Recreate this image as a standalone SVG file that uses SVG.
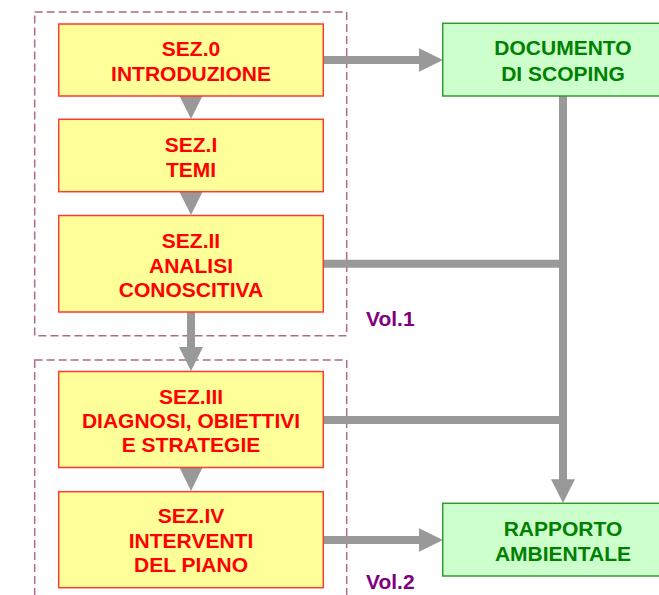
<svg xmlns="http://www.w3.org/2000/svg" width="659" height="595" viewBox="0 0 659 595">
<style>
.vol{fill:none;stroke:#B0688F;stroke-width:1.5;stroke-dasharray:8 4}
.sez{fill:#FFFF99;stroke:#FF3B2F;stroke-width:1.5}
.doc{fill:#CCFFCC;stroke:#339933;stroke-width:1.5}
.t{font-family:"Liberation Sans",Arial,sans-serif;font-weight:bold;font-size:21px;text-anchor:middle}
.r{fill:#FF0000}
.g{fill:#008000}
.p{fill:#800080;text-anchor:start}
.ln{stroke:#999999;stroke-width:8;fill:none}
.hd{fill:#999999}
</style>
<g id="vol1"><rect class="vol" x="34.7" y="12" width="312" height="323.7"/><text class="t p" x="366" y="326">Vol.1</text></g>
<g id="vol2"><rect class="vol" x="34.7" y="360" width="312" height="250"/><text class="t p" x="366" y="589">Vol.2</text></g>
<g id="connectors">
<polygon class="hd" points="179.5,96 202.5,96 191,119"/>
<polygon class="hd" points="179.5,192 202.5,192 191,215"/>
<line class="ln" x1="191" y1="312" x2="191" y2="348"/>
<polygon class="hd" points="179,347 203,347 191,371"/>
<polygon class="hd" points="179.5,467.5 202.5,467.5 191,491"/>
<line class="ln" x1="323" y1="60" x2="421" y2="60"/>
<polygon class="hd" points="419,48.3 443,60 419,71.7"/>
<line class="ln" x1="563" y1="96" x2="563" y2="481"/>
<polygon class="hd" points="551,479.3 575,479.3 563,503"/>
<line class="ln" x1="323" y1="263.7" x2="567" y2="263.7"/>
<line class="ln" x1="323" y1="420" x2="567" y2="420"/>
<line class="ln" x1="323" y1="540" x2="421" y2="540"/>
<polygon class="hd" points="419,528.3 443,540 419,551.7"/>
</g>
<g id="sez0"><rect class="sez" x="58.7" y="24" width="264.6" height="72"/><text class="t r" x="191" y="55.7">SEZ.0</text><text class="t r" x="191" y="81">INTRODUZIONE</text></g>
<g id="sez1"><rect class="sez" x="58.7" y="119.3" width="264.6" height="72.4"/><text class="t r" x="191" y="152">SEZ.I</text><text class="t r" x="191" y="177.3">TEMI</text></g>
<g id="sez2"><rect class="sez" x="58.7" y="215.5" width="264.6" height="96.5"/><text class="t r" x="191" y="248.3">SEZ.II</text><text class="t r" x="191" y="272.7">ANALISI</text><text class="t r" x="191" y="296.7">CONOSCITIVA</text></g>
<g id="sez3"><rect class="sez" x="58.7" y="371.5" width="264.6" height="96"/><text class="t r" x="191" y="404">SEZ.III</text><text class="t r" x="191" y="428.3">DIAGNOSI, OBIETTIVI</text><text class="t r" x="191" y="452.3">E STRATEGIE</text></g>
<g id="sez4"><rect class="sez" x="58.7" y="491.7" width="264.6" height="96"/><text class="t r" x="191" y="523.3">SEZ.IV</text><text class="t r" x="191" y="548.3">INTERVENTI</text><text class="t r" x="191" y="571.7">DEL PIANO</text></g>
<g id="scoping"><rect class="doc" x="442.7" y="23.3" width="240" height="72.7"/><text class="t g" x="563" y="55">DOCUMENTO</text><text class="t g" x="563" y="81">DI SCOPING</text></g>
<g id="rapporto"><rect class="doc" x="442.7" y="503.3" width="240" height="72.7"/><text class="t g" x="563" y="536">RAPPORTO</text><text class="t g" x="563" y="561">AMBIENTALE</text></g>
</svg>
